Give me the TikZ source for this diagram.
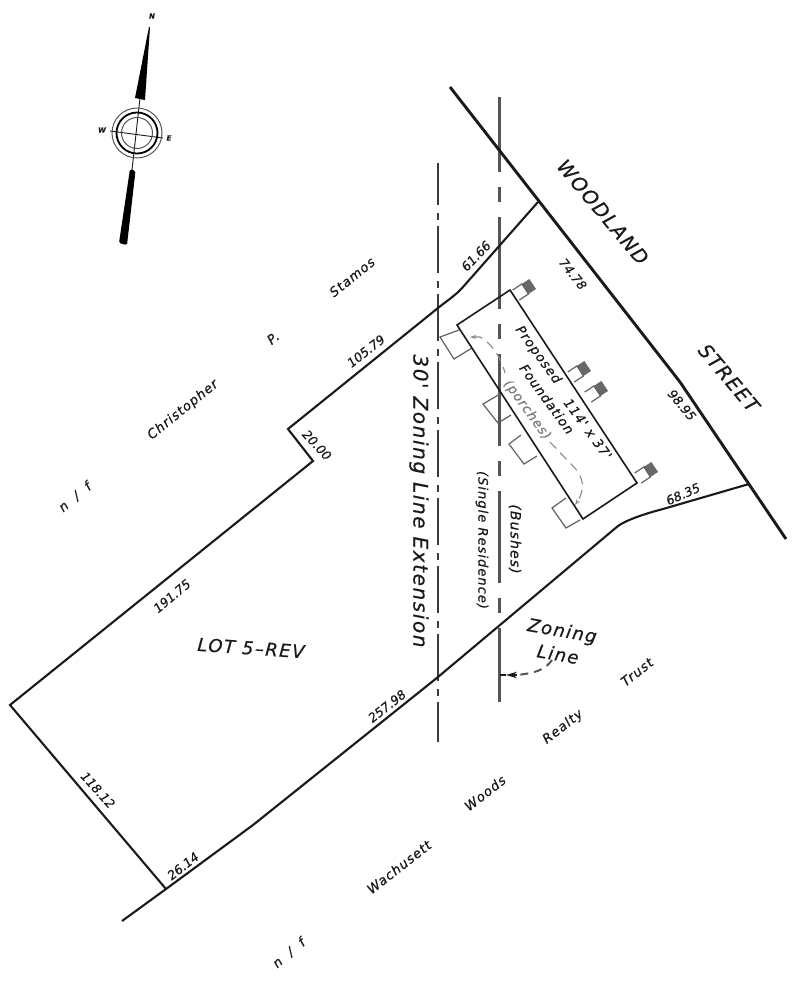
\documentclass[tikz,border=0pt]{standalone}
\usepackage{fontspec}
\setmainfont[FakeBold=0.35]{DejaVu Sans}
\newfontfamily\wideface[LetterSpace=8,FakeBold=0.5]{DejaVu Sans}
\usetikzlibrary{arrows.meta,calc}
\newcommand{\fs}[1]{\fontsize{#1}{#1}\selectfont\itshape}
\newcommand{\fw}[1]{\wideface\fontsize{#1}{#1}\selectfont\itshape}
\definecolor{ink}{HTML}{1A1A1A}
\definecolor{zone}{HTML}{555555}
\definecolor{soft}{HTML}{8A8A8A}
\tikzset{
  roadline/.style={draw=ink,line width=2.9pt},
  lotline/.style={draw=ink,line width=2.1pt,line join=miter},
  zoneline/.style={draw=zone,line width=3pt,dash pattern=on 92pt off 15pt on 15pt off 15pt,dash phase=17pt},
  extline/.style={draw=ink!85!white,line width=2.1pt,dash pattern=on 47pt off 8pt on 7pt off 6pt,dash phase=5pt},
  houseline/.style={draw=ink,line width=1.6pt},
  stoopline/.style={draw=soft!70!black,line width=1.2pt},
  porchline/.style={draw=soft,line width=1.1pt,dash pattern=on 9pt off 6pt},
  dimlab/.style={inner sep=0pt,text=ink,font=\fs{12.5}},
  ownerlab/.style={inner sep=0pt,text=ink,font=\fw{13}},
  biglab/.style={inner sep=0pt,text=ink,font=\fw{19.5}},
  midlab/.style={inner sep=0pt,text=ink,font=\fw{18}},
  tinylab/.style={inner sep=0pt,text=ink,font=\fs{7}\bfseries},
}
\newcommand{\backstep}[1]{%
  \begin{scope}[shift={(#1)},rotate=33.4]
    \fill[soft!75!black] (11,-6) rectangle (20,6);
    \draw[stoopline] (0,-6) -- (11,-6) -- (11,6) -- (0,6);
  \end{scope}}
\begin{document}
\begin{tikzpicture}[x=1pt,y=-1pt]
\path[fill=white,use as bounding box] (0,0) rectangle (800,989);

% control points
\coordinate (roadN) at (450,87);
\coordinate (roadB) at (680,382);
\coordinate (roadS) at (786,539);
\coordinate (a) at (10,705);
\coordinate (b) at (313,461);
\coordinate (c) at (288,429);
\coordinate (d) at (438,308);
\coordinate (e) at (463,287);
\coordinate (f) at (538,202);
\coordinate (g) at (749,484);
\coordinate (h) at (618,526);
\coordinate (k) at (166,889);
\coordinate (m) at (122,921);

% zoning lines
\coordinate (zt) at (499,97);
\coordinate (zb) at (499,702);
\coordinate (xt) at (438,163);
\coordinate (xb) at (438,742);
\draw[extline] (xt) -- (xb);
\draw[zoneline] (zt) -- (zb);

% road and lot
\draw[roadline] (roadN) -- (roadB) -- (roadS);
\draw[lotline] (k) -- (a) -- (b) -- (c) -- (d) .. controls (448,300) and (456,295) .. (e) -- (f);
\draw[lotline] (m) -- (k) -- (253,825) -- (438,677) -- (h) .. controls (625,521) and (640,515) .. (663,509) -- (g);

% stoops
\draw[stoopline] (459,330) -- (440,337) -- (454,359) -- (472,348);
\draw[stoopline] (500,394) -- (483,404) -- (498,423) -- (511,415);
\draw[stoopline] (521,435) -- (509,444) -- (524,464) -- (537,456);
\draw[stoopline] (566,498) -- (552,508) -- (566,528) -- (580,520);
\backstep{516,295}
\backstep{571,377}
\backstep{588,397}
\backstep{638,478}

% foundation
\coordinate (p1) at (510,290);
\coordinate (p2) at (637,483);
\coordinate (p3) at (583,519);
\coordinate (p4) at (457,325);
\draw[houseline] (p1) -- (p2) -- (p3) -- (p4) -- cycle;

% porch leader
\coordinate (q0) at (470,337);
\coordinate (q1) at (505,373);
\coordinate (q2) at (550,442);
\coordinate (q3) at (575,505);
\draw[porchline,{Stealth[length=6pt,width=4pt]}-] (q0) -- (480,337) .. controls (490,342) and (500,355) .. (q1);
\draw[porchline,-{Stealth[length=6pt,width=4pt]}] (q2) -- (572,465) .. controls (585,478) and (585,490) .. (q3);

% zoning leader
\coordinate (zl) at (552,660);
\coordinate (zm) at (517,675);
\coordinate (zr) at (500,675);
\draw[draw=soft!60!black,line width=2pt,dash pattern=on 8pt off 6pt] (zl) .. controls (545,670) and (535,673) .. (zm);
\draw[draw=ink,line width=1.6pt,-{Stealth[length=11pt,width=6.5pt]}] (zm) -- (506,675);
\draw[draw=ink,line width=1.6pt] (506,675) -- (zr);

% north arrow
\coordinate (nc) at (137,133);
\coordinate (ntip) at (149,27);
\coordinate (nbot) at (123,244);
\coordinate (nw) at (110,131);
\coordinate (ne) at (163,138);
\fill[black] (ntip) -- (150,27) -- (145,100) -- (135,98) -- cycle;
\fill[black,rounded corners=1.5pt] (130,169) -- (135.5,171) -- (127,245) -- (119,243) -- cycle;
\draw[draw=ink,line width=0.9pt] (140,98) -- (132,170);
\draw[draw=ink,line width=0.9pt] (nw) -- (ne);
\draw[draw=zone,line width=1pt] (nc) circle (25);
\draw[draw=black,line width=1.8pt] (nc) circle (20.5);
\draw[draw=zone,line width=1pt] (nc) circle (15.5);
\node[tinylab] (nN) at (152,16) {N};
\node[tinylab] (nW) at (102,130) {W};
\node[tinylab] (nE) at (169,138) {E};

% street names
\node[biglab,rotate=-50] (woodland) at (603,212) {WOODLAND};
\node[biglab,rotate=-50] (street) at (729,378) {STREET};

% dimensions
\node[dimlab,rotate=-52] (d1) at (573,274) {74.78};
\node[dimlab,rotate=-50] (d2) at (682,405) {98.95};
\node[dimlab,rotate=24] (d3) at (683,494) {68.35};
\node[dimlab,rotate=46] (d4) at (476,256) {61.66};
\node[dimlab,rotate=38] (d5) at (366,351) {105.79};
\node[dimlab,rotate=-47] (d6) at (317,445) {20.00};
\node[dimlab,rotate=40] (d7) at (172,596) {191.75};
\node[dimlab,rotate=38] (d8) at (387,706) {257.98};
\node[dimlab,rotate=-48] (d9) at (98,790) {118.12};
\node[dimlab,rotate=38] (d10) at (183,866) {26.14};

% owners
\node[ownerlab,rotate=39] (o1) at (352,277) {Stamos};
\node[ownerlab,rotate=39] (o2) at (273,338) {P.};
\node[ownerlab,rotate=39] (o3) at (183,410) {Christopher};
\node[ownerlab,rotate=40] (o4) at (75,497) {n\ \ /\ \ f};
\node[ownerlab,rotate=38] (o5) at (637,672) {Trust};
\node[ownerlab,rotate=38] (o6) at (563,727) {Realty};
\node[ownerlab,rotate=38] (o7) at (485,793) {Woods};
\node[ownerlab,rotate=38] (o8) at (399,867) {Wachusett};
\node[ownerlab,rotate=40] (o9) at (289,953) {n\ \ /\ \ f};

% lot and zoning text
\node[midlab,rotate=-4] (lot) at (251,648) {LOT 5–REV};
\node[midlab,rotate=-90,font=\fw{20}] (ext) at (419,501) {30' Zoning Line Extension};
\node[ownerlab,rotate=-90] (res) at (482,540) {(Single Residence)};
\node[ownerlab,rotate=-90,font=\fw{14}] (bush) at (515,539) {(Bushes)};
\node[midlab,rotate=-10] (zn1) at (562,632) {Zoning};
\node[midlab,rotate=-10] (zn2) at (558,654) {Line};

% foundation text
\node[ownerlab,rotate=-54] (f1) at (538,355) {Proposed};
\node[ownerlab,rotate=-54] (f2) at (588,429) {114' x 37'};
\node[ownerlab,rotate=-54] (f3) at (547,399) {Foundation};
\node[ownerlab,rotate=-54,text=soft!90!black] (f4) at (527,410) {(porches)};
\end{tikzpicture}
\end{document}
